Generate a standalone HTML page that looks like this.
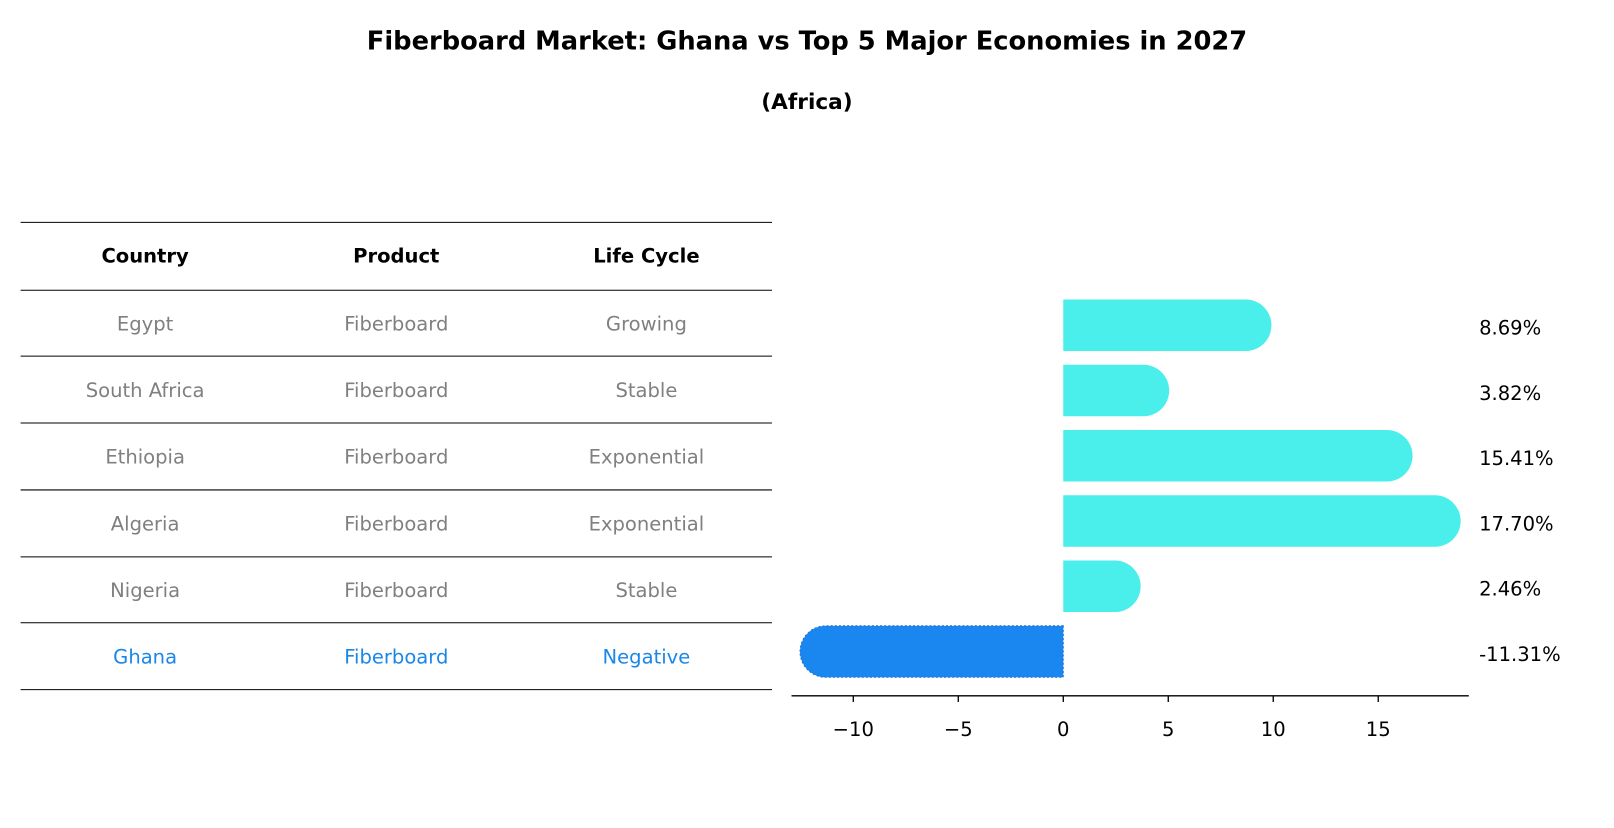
<!DOCTYPE html>
<html><head><meta charset="utf-8"><style>
body{margin:0;background:#fff;overflow:hidden;}
svg text{font-family:"DejaVu Sans","Liberation Sans",sans-serif;}
</style></head><body>
<svg width="1614" height="823" xmlns="http://www.w3.org/2000/svg">
<g transform="scale(1.0293)">
<text x="784" y="48" text-anchor="middle" font-size="25" font-weight="bold">Fiberboard Market: Ghana vs Top 5 Major Economies in 2027</text>
<text x="784" y="106" text-anchor="middle" font-size="21" font-weight="bold">(Africa)</text>
<g id="table"></g>
<g id="bars"></g>
</g>
</svg>
<script>
const countries=["Egypt","South Africa","Ethiopia","Algeria","Nigeria","Ghana"];
const products=["Fiberboard","Fiberboard","Fiberboard","Fiberboard","Fiberboard","Fiberboard"];
const lifecycles=["Growing","Stable","Exponential","Exponential","Stable","Negative"];
const values=[8.69,3.82,15.41,17.70,2.46,-11.31];
const ticks=[-10,-5,0,5,10,15];
const NS="http://www.w3.org/2000/svg";
function mk(p,t,a){const e=document.createElementNS(NS,t);for(const k in a)e.setAttribute(k,a[k]);p.appendChild(e);return e;}
const tbl=document.getElementById('table');
const lineYs=[216,282,346,411,476,541,605,670];
lineYs.forEach((y,i)=>{const l=mk(tbl,'line',{x1:20,x2:750,y1:y,y2:y,stroke:'#000','stroke-width':1});

});
const colX=[141,385,628];
["Country","Product","Life Cycle"].forEach((h,j)=>{const t=mk(tbl,'text',{x:colX[j],y:255,'text-anchor':'middle','font-size':19,'font-weight':'bold'});t.textContent=h;

});
countries.forEach((c,i)=>{const y=(lineYs[i+1]+lineYs[i+2])/2+7;const col=c==="Ghana"?'#1a87e8':'#808080';
[c,products[i],lifecycles[i]].forEach((v,j)=>{const t=mk(tbl,'text',{x:colX[j],y:y,'text-anchor':'middle','font-size':19,fill:col});t.textContent=v;

});});
const g=document.getElementById('bars');
const x0=1033,sc=20.4;const X=v=>x0+v*sc;
const rowY=i=>316+i*63.4;const r=25;
values.forEach((v,i)=>{const cy=rowY(i);const neg=v<0;const col=neg?'#1a87f0':'#4aeeea';
const xe=X(v);
const p=mk(g,'path',{d:neg?`M${x0},${cy-r} L${xe},${cy-r} A${r},${r} 0 0 0 ${xe},${cy+r} L${x0},${cy+r} Z`:`M${x0},${cy-r} L${xe},${cy-r} A${r},${r} 0 0 1 ${xe},${cy+r} L${x0},${cy+r} Z`,fill:col});
if(neg){p.setAttribute('stroke','#1f6fd0');p.setAttribute('stroke-dasharray','2,2');}


const t=mk(g,'text',{x:1437,y:cy+9,'font-size':19});t.textContent=v.toFixed(2)+'%';

});
const ax=mk(g,'line',{x1:769,x2:1427,y1:676,y2:676,stroke:'#000','stroke-width':1.3});


ticks.forEach(tv=>{const tk=mk(g,'line',{x1:X(tv),x2:X(tv),y1:676,y2:682,stroke:'#000','stroke-width':1.3});


const t=mk(g,'text',{x:X(tv),y:715,'text-anchor':'middle','font-size':19});t.textContent=tv<0?'\u2212'+(-tv):String(tv);

});
</script>
</body></html>
